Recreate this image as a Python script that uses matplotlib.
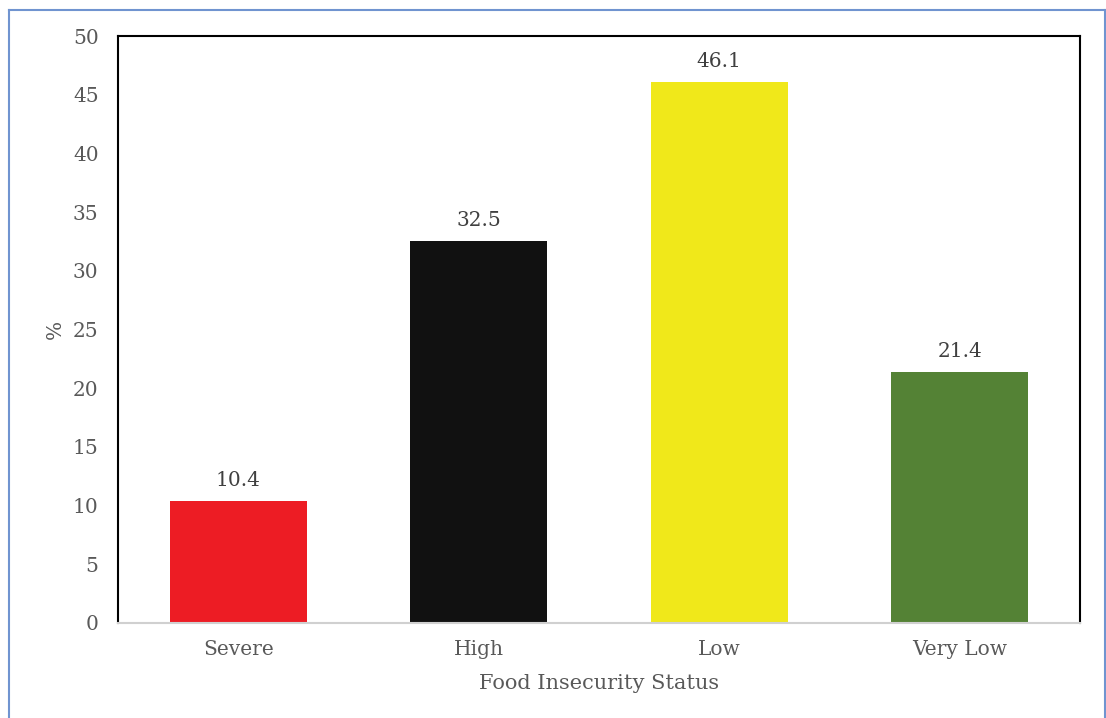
import matplotlib
matplotlib.use("Agg")
import matplotlib.pyplot as plt
from matplotlib.lines import Line2D

categories = ["Severe", "High", "Low", "Very Low"]
values = [10.4, 32.5, 46.1, 21.4]
colors = ["#ED1C24", "#111111", "#F0E81A", "#548235"]
yticks = [0, 5, 10, 15, 20, 25, 30, 35, 40, 45, 50]

plt.rcParams["font.family"] = ["DejaVu Serif"]
text_color = "#595959"

fig = plt.figure(figsize=(11.06, 7.18), dpi=100)
ax = fig.add_axes([118 / 1106, 1 - 623 / 718, (1080 - 118) / 1106, (623 - 36) / 718])

x = range(len(categories))
bars = ax.bar(x, values, width=0.57, color=colors, zorder=2)
for b, v in zip(bars, values):
    ax.annotate(f"{v}", (b.get_x() + b.get_width() / 2, v), xytext=(0, 8),
                textcoords="offset points", ha="center", va="bottom",
                fontsize=14.5, color="#404040")

ax.set_xlim(-0.5, len(categories) - 0.5)
ax.set_ylim(0, 50)
ax.set_yticks(yticks)
ax.set_xticks(list(x))
ax.set_xticklabels(categories)
ax.tick_params(axis="both", length=0, labelsize=14.5, labelcolor=text_color)
ax.tick_params(axis="y", pad=14)
ax.tick_params(axis="x", pad=12)

for side in ["left", "top", "right"]:
    ax.spines[side].set_color("black")
    ax.spines[side].set_linewidth(1.5)
ax.spines["bottom"].set_color("#D0D0D0")
ax.spines["bottom"].set_linewidth(1.5)

ax.set_xlabel("Food Insecurity Status", fontsize=15, color=text_color, labelpad=11)
ax.set_ylabel("%", fontsize=14.5, color=text_color, labelpad=6)

# outer frame around the chart area
frame_kw = dict(color="#7094D0", linewidth=1.5, transform=fig.transFigure)
fig.add_artist(Line2D([8.5 / 1106, 8.5 / 1106], [0, 1 - 10 / 718], **frame_kw))
fig.add_artist(Line2D([8.5 / 1106, 1104.5 / 1106], [1 - 10 / 718, 1 - 10 / 718], **frame_kw))
fig.add_artist(Line2D([1104.5 / 1106, 1104.5 / 1106], [0, 1 - 10 / 718], **frame_kw))

fig.savefig("out.png", dpi=100)
